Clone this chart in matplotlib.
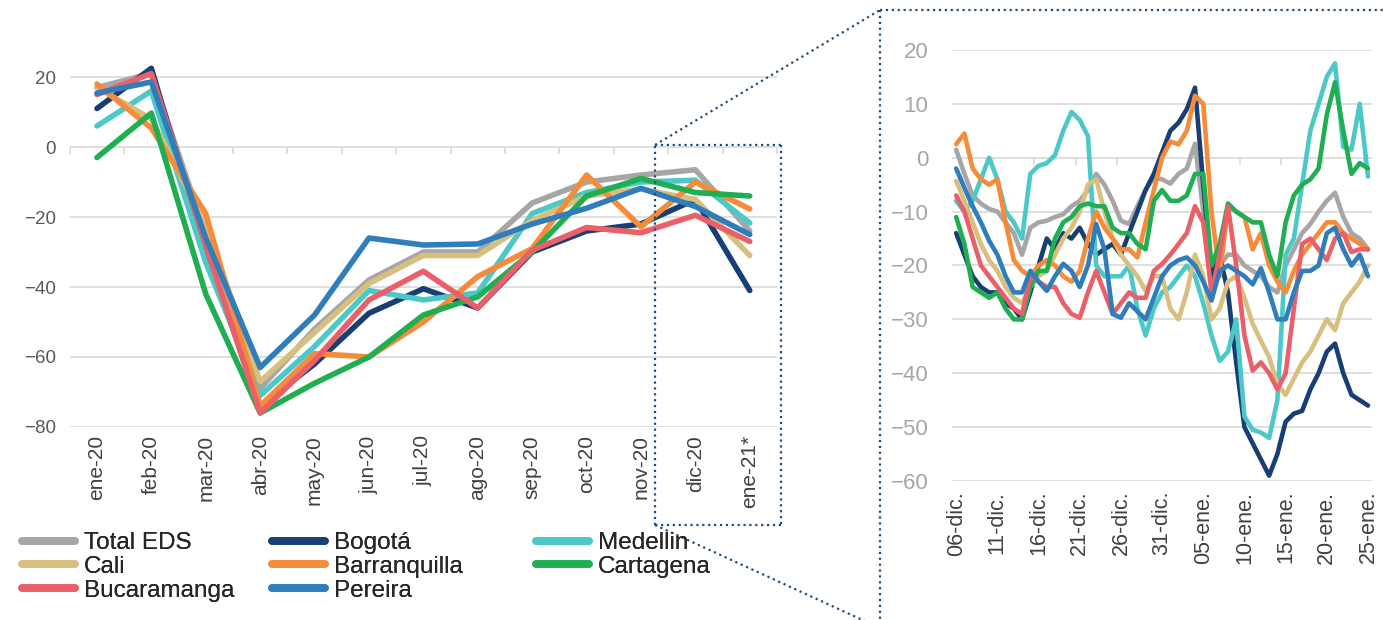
import matplotlib.pyplot as plt
from matplotlib.lines import Line2D

# ==========================
# Data
# ==========================

months = ['ene-20', 'feb-20', 'mar-20', 'abr-20', 'may-20', 'jun-20', 'jul-20',
          'ago-20', 'sep-20', 'oct-20', 'nov-20', 'dic-20', 'ene-21*']

names = ['Total EDS', 'Bogotá', 'Medellin', 'Cali', 'Barranquilla',
         'Cartagena', 'Bucaramanga', 'Pereira']
colors = ['#a6a6a6', '#173f73', '#4cc8c8', '#d8bf7e', '#f68b3a',
          '#1fae52', '#ea6068', '#2f7dbb']

# monthly (left panel)
total_m = [17, 21, -25, -69, -52, -38, -30, -30, -16, -10, -8, -6.5, -24]
bogota_m = [11, 22.5, -30, -74, -62, -47.5, -40.5, -46, -30, -24, -22, -15, -41]
medellin_m = [6, 16, -33, -71, -57, -41, -43.7, -41.7, -19, -13, -10, -9.5, -21.7]
cali_m = [17, 8, -22, -67, -53, -39, -31, -31, -21, -14, -12, -15, -31]
barranquilla_m = [18, 5.4, -19, -74, -59, -60, -50, -37, -29, -8, -22.8, -10, -17.7]
cartagena_m = [-3, 9.7, -42, -76, -67.5, -60, -48, -42.8, -30, -14, -9, -13, -14]
bucaramanga_m = [15, 21, -28, -76, -61, -43.7, -35.5, -46, -29.5, -23, -24.5, -19.5, -27]
pereira_m = [15.4, 18.6, -26, -63, -48, -26, -28, -27.7, -22, -17.5, -11.8, -17, -25]

# daily, 06-dic to 25-ene (right panel)
day_labels = ['06-dic.', '11-dic.', '16-dic.', '21-dic.', '26-dic.', '31-dic.',
              '05-ene.', '10-ene.', '15-ene.', '20-ene.', '25-ene.']

total_d = [1.5, -3, -7, -8.5, -9.5, -10, -12, -14, -18, -13, -12, -11.7, -11,
           -10.5, -9, -8, -6, -3, -5, -8, -11.7, -12.3, -9, -6, -3.7, -4, -4.8,
           -3, -2, 2.6, -10, -23, -20, -18, -18, -20, -21, -22, -24, -25, -20,
           -17, -14, -12.3, -10, -8, -6.5, -11, -14, -15, -17]
bogota_d = [-14, -18, -22, -24, -25, -25, -27, -28, -30, -25, -20, -15, -17,
            -14, -15, -13, -16, -18, -17, -16, -18, -14, -10, -6, -3, 1, 5,
            6.5, 9, 13, -5, -22, -18, -25, -38, -50, -53, -56, -59, -55, -49,
            -47.5, -47, -43, -40, -36, -34.5, -40, -44, -45, -46]
medellin_d = [-8, -10, -8, -4, 0, -4, -10, -12, -15, -3, -1.5, -1, 0.5, 5, 8.5,
              7, 4, -20, -22, -22, -22, -20, -28, -33, -28, -25, -24, -22, -20,
              -22, -27, -33, -37.7, -36, -30, -48, -50.5, -51, -52, -45, -18,
              -15, -5, 5, 10, 15, 17.5, 2, 1.5, 10, -3.5]
cali_d = [-4.3, -8, -12, -16, -19, -21, -24, -26, -27, -24, -22, -21, -18, -15,
          -13, -10, -5, -4, -10, -15, -18, -20, -22, -24.7, -22, -22, -28, -30,
          -25, -18, -22, -30, -28, -23, -22, -26, -30.8, -34, -37, -42, -44,
          -41, -38, -36, -33, -30, -32, -27, -25, -23, -20]
barranquilla_d = [2.5, 4.5, -2, -4, -5, -4, -12, -19, -21, -22, -20, -19, -20,
                  -22, -23, -21, -15, -10, -13, -15, -17, -17, -18.5, -12, -6,
                  0, 3, 2.5, 5, 11.5, 10, -10, -22, -9, -10, -11, -17, -14, -20,
                  -23, -25, -21, -18, -16, -14, -12, -12, -14, -15, -16, -17]
cartagena_d = [-11, -16, -24, -25, -26, -25, -28, -30, -30, -24, -21, -21, -15,
               -12, -11, -9, -8.5, -9, -9, -13, -14, -14, -16, -17, -8, -6, -8,
               -8, -7, -3, -3, -20, -16, -8.5, -10, -11, -12, -12, -18, -22,
               -12, -7, -5, -4, -2, 8, 14, 5, -3, -1, -2]
bucaramanga_d = [-7, -10, -15, -20, -22, -24, -26, -28, -29, -22, -23, -24, -24,
                 -27, -29, -29.7, -25, -21, -25, -29, -27, -25, -26, -26, -21,
                 -19.7, -18, -16, -14, -9, -12, -25, -18, -9, -20, -33, -39.5,
                 -38, -40, -43, -40, -28, -16, -15, -17, -19, -15, -14, -17.5,
                 -17, -17]
pereira_d = [-2, -5.6, -9, -12, -15.4, -18, -22, -25, -25, -21, -23, -24.7, -22,
             -19.7, -21, -24, -20, -12.3, -17, -29, -29.7, -27, -28.5, -30, -26,
             -22, -20, -19, -18.5, -20, -23, -26.5, -21, -20, -21, -22, -23.5,
             -20.5, -25, -30, -30, -25, -21, -21, -20, -14, -13, -17, -20, -18,
             -22]

monthly = [total_m, bogota_m, medellin_m, cali_m, barranquilla_m,
           cartagena_m, bucaramanga_m, pereira_m]
daily = [total_d, bogota_d, medellin_d, cali_d, barranquilla_d,
         cartagena_d, bucaramanga_d, pereira_d]

# ==========================
# Figure
# ==========================

plt.rcParams['font.family'] = ['Liberation Sans', 'DejaVu Sans']

W, H = 1384, 620
fig = plt.figure(figsize=(W / 100, H / 100), dpi=100)

grid_c = '#d9d9d9'

# ---- left panel (monthly)
ax = fig.add_axes([0.0504, 0.3113, 0.511, 0.5927])
for vals, c in zip(monthly, colors):
    ax.plot(range(len(months)), vals, color=c, lw=4.0,
            solid_joinstyle='round', solid_capstyle='round')

ax.set_xlim(-0.5, len(months) - 0.5)
ax.set_ylim(-80, 25)
ax.set_yticks(range(-80, 21, 20))
ax.yaxis.grid(True, color=grid_c, lw=1.2)
ax.set_axisbelow(True)
for s in ax.spines.values():
    s.set_visible(False)
ax.tick_params(axis='y', length=0, pad=10, labelsize=13.5, labelcolor='#595959')
ax.set_xticks(range(len(months)))
ax.set_xticklabels(months, rotation=90)
ax.tick_params(axis='x', length=0, pad=6, labelsize=15, labelcolor='#404040')

# category boundary ticks on the zero line
sec = ax.secondary_xaxis(80 / 105)
sec.set_xticks([i - 0.5 for i in range(len(months) + 1)])
sec.tick_params(axis='x', direction='out', length=5, color=grid_c, width=1.2,
                labelbottom=False, labeltop=False, bottom=True, top=False)
for s in sec.spines.values():
    s.set_visible(False)

# ---- right panel (daily)
ax2 = fig.add_axes([0.6879, 0.2242, 0.3035, 0.6952])
n = len(total_d)
for vals, c in zip(daily, colors):
    ax2.plot(range(n), vals, color=c, lw=3.3,
             solid_joinstyle='round', solid_capstyle='round')

ax2.set_xlim(-0.5, n - 0.5)
ax2.set_ylim(-60, 20)
ax2.set_yticks(range(-60, 21, 10))
ax2.yaxis.grid(True, color=grid_c, lw=1.2)
ax2.set_axisbelow(True)
for s in ax2.spines.values():
    s.set_visible(False)
ax2.tick_params(axis='y', length=0, pad=17, labelsize=16, labelcolor='#a6a6a6')
ax2.set_xticks(range(0, n, 5))
ax2.set_xticklabels(day_labels, rotation=90)
ax2.tick_params(axis='x', length=0, pad=7, labelsize=15.5, labelcolor='#404040')

sec2 = ax2.secondary_xaxis(60 / 80)
sec2.set_xticks([i - 0.5 for i in range(5, n, 5)])
sec2.tick_params(axis='x', direction='out', length=5, color=grid_c, width=1.2,
                 labelbottom=False, labeltop=False, bottom=True, top=False)
for s in sec2.spines.values():
    s.set_visible(False)

# ---- legend: three single columns, filled row by row
columns = [[0, 3, 6], [1, 4, 7], [2, 5]]
col_x = [22, 272, 536]
for idx, x0 in zip(columns, col_x):
    handles = [Line2D([], [], color=colors[i], lw=5.5, solid_capstyle='round')
               for i in idx]
    leg = fig.legend(handles, [names[i] for i in idx], loc='upper left',
                     bbox_to_anchor=(x0 / W, 1 - 532 / H), frameon=False,
                     fontsize=17.5, handlelength=2.2, handletextpad=0.35,
                     labelspacing=0.08, borderpad=0, borderaxespad=0)
    for t in leg.get_texts():
        t.set_color('#262626')
    fig.add_artist(leg)

# ---- zoom box and connectors (figure pixels)
def fline(x0, y0, x1, y1):
    fig.add_artist(Line2D([x0 / W, x1 / W], [1 - y0 / H, 1 - y1 / H],
                          transform=fig.transFigure, color='#1f4e79',
                          lw=1.6, ls=':'))

fline(655, 145, 781, 145)
fline(781, 145, 781, 525)
fline(781, 525, 655, 525)
fline(655, 525, 655, 145)
fline(655, 145, 880, 10)
fline(655, 525, 880, 628)
fline(880, 10, 1384, 10)
fline(880, 10, 880, 620)

fig.savefig('out.png', dpi=100)
